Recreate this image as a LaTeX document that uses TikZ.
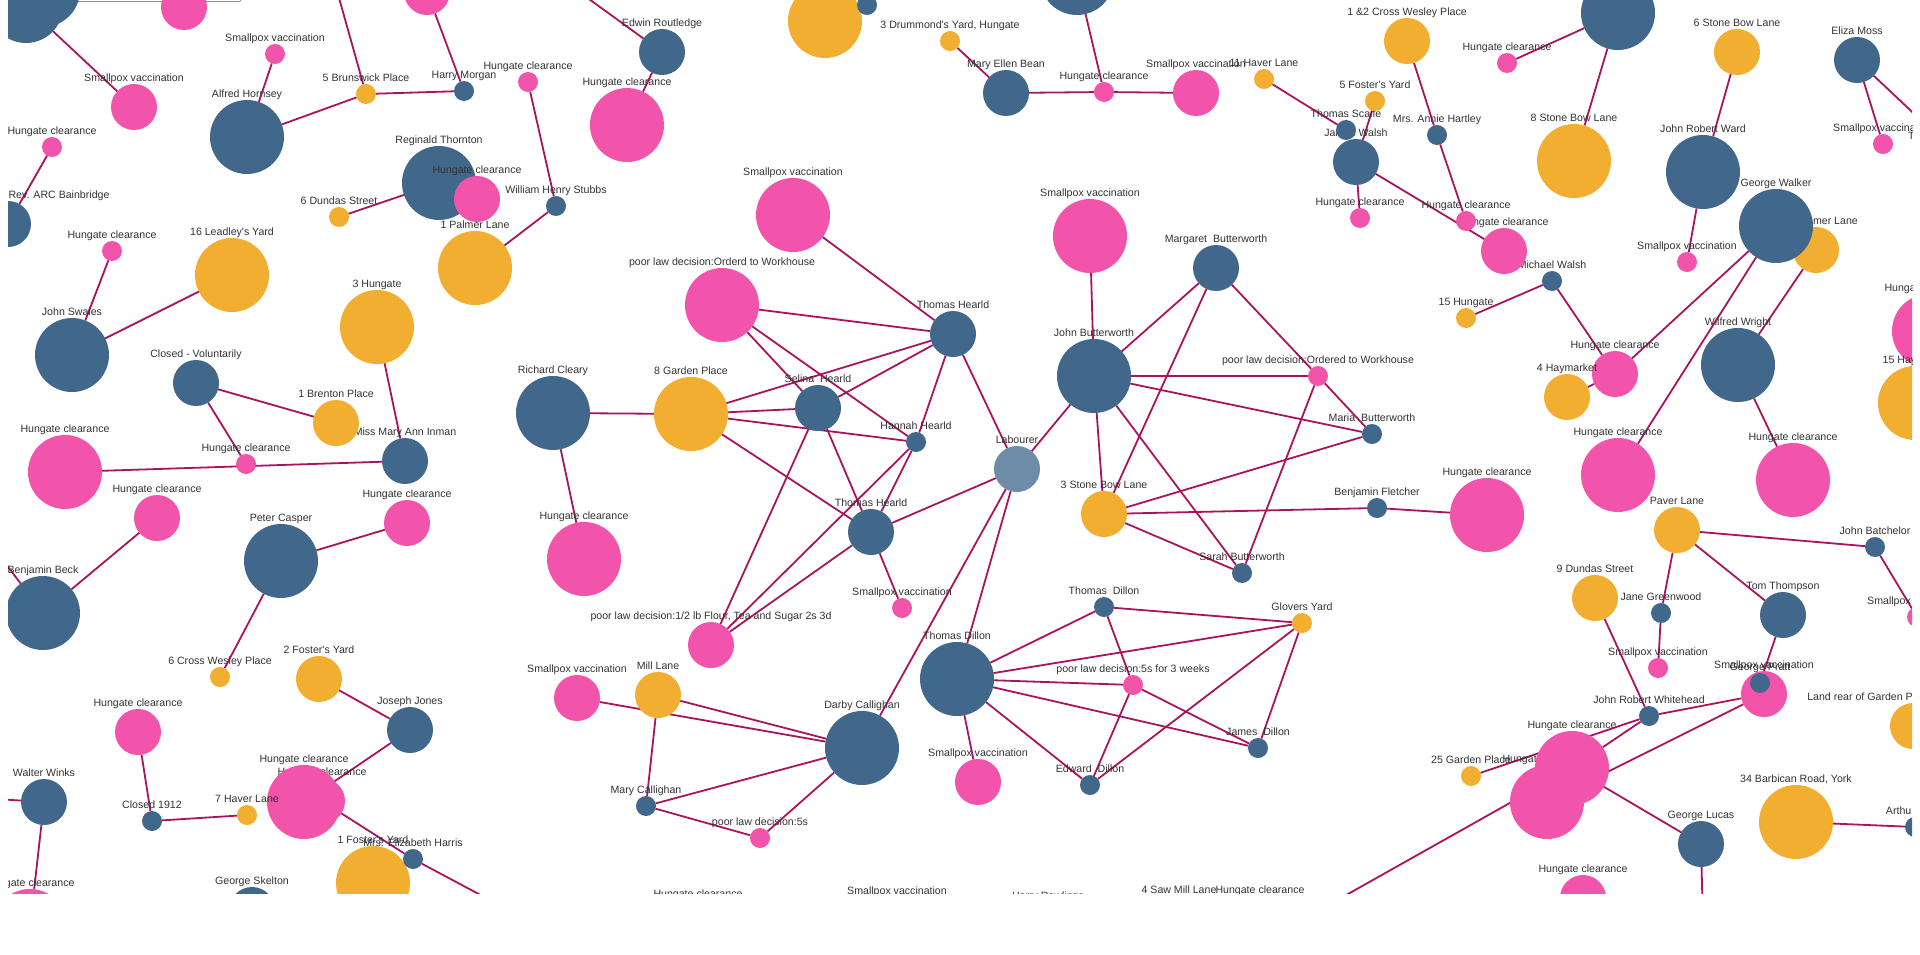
\documentclass[tikz,border=0pt]{standalone}
\usepackage{fontspec}
\usepackage{xcolor}
\usepackage{tikz}
\newfontfamily\labelfont{Liberation Sans}
\definecolor{nblue}{HTML}{41678B}
\definecolor{nlight}{HTML}{6E8CA7}
\definecolor{npink}{HTML}{F254AB}
\definecolor{norange}{HTML}{F2AE30}
\definecolor{nlink}{HTML}{A8145E}
\definecolor{ntext}{HTML}{333333}
\pgfdeclarelayer{paper}
\pgfdeclarelayer{links}
\pgfsetlayers{paper,links,main}
\tikzset{
  dot/.style={circle, inner sep=0pt, outer sep=0pt},
  sdot/.style={dot, minimum size=20pt},
  mdot/.style={dot, minimum size=46pt},
  ldot/.style={dot, minimum size=74pt},
  person/.style={fill=nblue},
  labourer/.style={fill=nlight},
  place/.style={fill=norange},
  event/.style={fill=npink},
  lbl/.style={font=\labelfont\fontsize{10.6}{12}\selectfont, text=ntext, inner sep=0pt, text depth=2pt},
  every label/.style={lbl},
  link/.style={draw=nlink, line width=1.8pt},
  btn/.style={draw=black!45, line width=0.8pt, rounded corners=2pt},
}

\begin{document}
\begin{tikzpicture}[x=1pt,y=-1pt]
    \useasboundingbox (0,0) rectangle (1920,955);
    \begin{pgfonlayer}{paper}
        \fill[white] (0,0) rectangle (1920,955);
    \end{pgfonlayer}

    \begin{scope}
    \clip (8,0) rectangle (1912,893);

    % Buttons at the top
    \draw[btn] (8,-20) rectangle (59,1.5);
    \draw[btn] (74,-20) rectangle (168,1.5);
    \draw[btn] (183,-20) rectangle (241,1.5);

    % Top left
    \node[ldot, person] (topblueB) at (43,-10) {};
    \node[ldot, person] (topblueA) at (26,6) {};
    \node[mdot, event] (toppinkA) at (184,7) {};
    \node[mdot, event, label=above:{Smallpox vaccination}] (sv1) at (134,107) {};
    \node[sdot, event, label=above:{Smallpox vaccination}] (sv2) at (275,54) {};
    \node[ldot, person, label=above:{Alfred Hornsey}] (hornsey) at (247,137) {};
    \node[sdot, place, label=above:{5 Brunswick Place}] (brunswick) at (366,94) {};
    \node[sdot, person, label=above:{Harry Morgan}] (morgan) at (464,91) {};
    \node[mdot, event] (toppinkB) at (427,-8) {};
    \node[sdot, event, label=above:{Hungate clearance}] (hc1) at (52,147) {};
    \node[mdot, person, label={[xshift=51pt]above:{Rev. ARC Bainbridge}}] (bainbridge) at (8,224) {};
    \node[ldot, person, label=above:{Reginald Thornton}] (thornton) at (439,183) {};
    \node[mdot, event, label=above:{Hungate clearance}] (hc2) at (477,199) {};
    \node[sdot, place, label=above:{6 Dundas Street}] (dundas6) at (339,217) {};
    \node[ldot, place, label=above:{1 Palmer Lane}] (palmer1) at (475,268) {};

    % Top middle
    \node[mdot, person, label=above:{Edwin Routledge}] (routledge) at (662,52) {};
    \node[ldot, event, label=above:{Hungate clearance}] (hc4) at (627,125) {};
    \node[sdot, event, label=above:{Hungate clearance}] (hc5) at (528,82) {};
    \node[sdot, person, label=above:{William Henry Stubbs}] (stubbs) at (556,206) {};
    \node[ldot, place] (toporange) at (825,21) {};
    \node[sdot, person] (topblueC) at (867,5) {};
    \node[sdot, place, label=above:{3 Drummond's Yard, Hungate}] (drummond) at (950,41) {};
    \node[ldot, event, label=above:{Smallpox vaccination}] (sv3) at (793,215) {};
    \node[ldot, event, label=above:{poor law decision:Orderd to Workhouse}] (orderd) at (722,305) {};
    \node[mdot, person, label=above:{Thomas Hearld}] (hearldT) at (953,334) {};

    % Top right middle
    \node[ldot, person] (topblueD) at (1077,-22) {};
    \node[mdot, person, label=above:{Mary Ellen Bean}] (bean) at (1006,93) {};
    \node[sdot, event, label=above:{Hungate clearance}] (hc6) at (1104,92) {};
    \node[mdot, event, label=above:{Smallpox vaccination}] (sv4) at (1196,93) {};
    \node[sdot, place, label=above:{11 Haver Lane}] (haver11) at (1264,79) {};
    \node[mdot, person, label=above:{James Walsh}] (jwalsh) at (1356,162) {};
    \node[sdot, person, label=above:{Thomas Scaife}] (scaife) at (1346,130) {};
    \node[sdot, place, label=above:{5 Foster's Yard}] (foster5) at (1375,101) {};
    \node[mdot, place, label=above:{1 \&2 Cross Wesley Place}] (cross12) at (1407,41) {};
    \node[sdot, person, label=above:{Mrs. Annie Hartley}] (hartley) at (1437,135) {};
    \node[sdot, event, label=above:{Hungate clearance}] (hc7) at (1360,218) {};
    \node[ldot, event, label=above:{Smallpox vaccination}] (sv5) at (1090,236) {};
    \node[mdot, person, label=above:{Margaret~ Butterworth}] (mbutter) at (1216,268) {};

    % Top right
    \node[ldot, person] (topblueE) at (1618,13) {};
    \node[sdot, event, label=above:{Hungate clearance}] (hc8) at (1507,63) {};
    \node[ldot, place, label=above:{8 Stone Bow Lane}] (stone8) at (1574,161) {};
    \node[sdot, person, label=above:{Michael Walsh}] (mwalsh) at (1552,281) {};
    \node[mdot, event, label=above:{Hungate clearance}] (hc10) at (1504,251) {};
    \node[sdot, event, label=above:{Hungate clearance}] (hc9) at (1466,221) {};
    \node[sdot, place, label=above:{15 Hungate}] (hungate15) at (1466,318) {};
    \node[mdot, place, label=above:{6 Stone Bow Lane}] (stone6) at (1737,52) {};
    \node[ldot, person, label=above:{John Robert Ward}] (ward) at (1703,172) {};
    \node[sdot, event, label=above:{Smallpox vaccination}] (sv6) at (1687,262) {};
    \node[mdot, place, label={[xshift=19.4pt]above:{mer Lane}}] (merlane) at (1816,250) {};
    \node[ldot, person, label=above:{George Walker}] (gwalker) at (1776,226) {};
    \node[mdot, person, label=above:{Eliza Moss}] (moss) at (1857,60) {};
    \node[sdot, event, label=above:{Smallpox vaccination}] (sv7) at (1883,144) {};
    \node[lbl, anchor=base west] (tcut) at (1908,140) {T};
    \node[ldot, event, label=above:{Hungate clearance}] (hcR) at (1929,331) {};
    \node[ldot, place, label={[xshift=-15.5pt]above:{15 Hay}}] (hayR) at (1915,403) {};

    % Left middle
    \node[ldot, place, label=above:{16 Leadley's Yard}] (leadley) at (232,275) {};
    \node[sdot, event, label=above:{Hungate clearance}] (hc3) at (112,251) {};
    \node[ldot, place, label=above:{3 Hungate}] (hungate3) at (377,327) {};
    \node[ldot, person, label=above:{John Swales}] (swales) at (72,355) {};
    \node[mdot, person, label=above:{Closed - Voluntarily}] (closedv) at (196,383) {};
    \node[mdot, person, label=above:{Miss Mary Ann Inman}] (inman) at (405,461) {};
    \node[mdot, place, label=above:{1 Brenton Place}] (brenton) at (336,423) {};
    \node[sdot, event, label=above:{Hungate clearance}] (hc11) at (246,464) {};
    \node[ldot, event, label=above:{Hungate clearance}] (hc12) at (65,472) {};
    \node[mdot, event, label=above:{Hungate clearance}] (hc13) at (157,518) {};
    \node[mdot, event, label=above:{Hungate clearance}] (hc14) at (407,523) {};
    \node[ldot, person, label=above:{Peter Casper}] (casper) at (281,561) {};
    \node[ldot, person, label=above:{Benjamin Beck}] (beck) at (43,613) {};
    \node[sdot, place, label=above:{6 Cross Wesley Place}] (cwesley6) at (220,677) {};

    % Bottom left
    \node[mdot, place, label=above:{2 Foster's Yard}] (foster2) at (319,679) {};
    \node[mdot, person, label=above:{Joseph Jones}] (jjones) at (410,730) {};
    \node[mdot, event, label=above:{Hungate clearance}] (hc15) at (138,732) {};
    \node[mdot, person, label=above:{Walter Winks}] (winks) at (44,802) {};
    \node[ldot, event, label=above:{Hungate clearance}] (hc16) at (30,926) {};
    \node[sdot, person, label=above:{Closed 1912}] (closed1912) at (152,821) {};
    \node[mdot, event, label=above:{Hungate clearance}] (hc17) at (322,801) {};
    \node[ldot, event, label=above:{Hungate clearance}] (hc18) at (304,802) {};
    \node[sdot, place, label=above:{7 Haver Lane}] (haver7) at (247,815) {};
    \node[ldot, place, label=above:{1 Foster's Yard}] (foster1) at (373,883) {};
    \node[sdot, person, label=above:{Mrs. Elizabeth Harris}] (harris) at (413,859) {};
    \node[mdot, person, label=above:{George Skelton}] (skelton) at (252,910) {};

    % Centre: the Hearlds
    \node[ldot, person, label=above:{Richard Cleary}] (cleary) at (553,413) {};
    \node[ldot, place, label=above:{8 Garden Place}] (garden8) at (691,414) {};
    \node[ldot, event, label=above:{Hungate clearance}] (hc19) at (584,559) {};
    \node[mdot, person, label=above:{Selina~ Hearld}] (selina) at (818,408) {};
    \node[sdot, person, label=above:{Hannah Hearld}] (hannah) at (916,442) {};
    \node[mdot, person, label=above:{Thomas Hearld}] (hearldB) at (871,532) {};
    \node[sdot, event, label=above:{Smallpox vaccination}] (sv8) at (902,608) {};
    \node[mdot, event, label=above:{poor law decision:1/2 lb Flour, Tea and Sugar 2s 3d}] (flour) at (711,645) {};

    % Centre: Butterworths and Dillons
    \node[ldot, person, label=above:{John Butterworth}] (jbutter) at (1094,376) {};
    \node[mdot, labourer, label=above:{Labourer}] (labourer) at (1017,469) {};
    \node[sdot, event, label=above:{poor law decision:Ordered to Workhouse}] (ordered) at (1318,376) {};
    \node[sdot, person, label=above:{Maria~ Butterworth}] (maria) at (1372,434) {};
    \node[mdot, place, label=above:{3 Stone Bow Lane}] (stone3) at (1104,514) {};
    \node[sdot, person, label=above:{Benjamin Fletcher}] (fletcher) at (1377,508) {};
    \node[sdot, person, label=above:{Sarah Butterworth}] (sarah) at (1242,573) {};
    \node[sdot, person, label=above:{Thomas~ Dillon}] (tdillonS) at (1104,607) {};
    \node[sdot, place, label=above:{Glovers Yard}] (glovers) at (1302,623) {};
    \node[ldot, person, label=above:{Thomas Dillon}] (tdillonB) at (957,679) {};
    \node[sdot, event, label=above:{poor law decision:5s for 3 weeks}] (weeks) at (1133,685) {};
    \node[sdot, person, label=above:{James~ Dillon}] (jdillon) at (1258,748) {};
    \node[sdot, person, label=above:{Edward~ Dillon}] (edillon) at (1090,785) {};
    \node[mdot, event, label=above:{Smallpox vaccination}] (sv9) at (978,782) {};

    % Centre: Callighans
    \node[mdot, event, label=above:{Smallpox vaccination}] (sv10) at (577,698) {};
    \node[mdot, place, label=above:{Mill Lane}] (mill) at (658,695) {};
    \node[sdot, person, label=above:{Mary Callighan}] (mcall) at (646,806) {};
    \node[sdot, event, label=above:{poor law decision:5s}] (fives) at (760,838) {};
    \node[ldot, person, label=above:{Darby Callighan}] (darby) at (862,748) {};

    % Right middle
    \node[mdot, event, label=above:{Hungate clearance}] (hc20) at (1615,374) {};
    \node[mdot, place, label=above:{4 Haymarket}] (haymarket4) at (1567,397) {};
    \node[ldot, person, label=above:{Wilfred Wright}] (wright) at (1738,365) {};
    \node[ldot, event, label=above:{Hungate clearance}] (hc21) at (1618,475) {};
    \node[ldot, event, label=above:{Hungate clearance}] (hc22) at (1793,480) {};
    \node[ldot, event, label=above:{Hungate clearance}] (hc23) at (1487,515) {};
    \node[mdot, place, label=above:{Paver Lane}] (paver) at (1677,530) {};
    \node[sdot, person, label=above:{John Batchelor}] (batchelor) at (1875,547) {};
    \node[mdot, place, label=above:{9 Dundas Street}] (dundas9) at (1595,598) {};
    \node[sdot, person, label=above:{Jane Greenwood}] (greenwood) at (1661,613) {};
    \node[mdot, person, label=above:{Tom Thompson}] (thompson) at (1783,615) {};
    \node[sdot, event, label=above:{Smallpox vaccination}] (sv11) at (1917,617) {};

    % Bottom right
    \node[sdot, event, label=above:{Smallpox vaccination}] (sv12) at (1658,668) {};
    \node[mdot, event, label=above:{Smallpox vaccination}] (sv13) at (1764,694) {};
    \node[sdot, person, label=above:{George Pratt}] (pratt) at (1760,683) {};
    \node[sdot, person, label=above:{John Robert Whitehead}] (whitehead) at (1649,716) {};
    \node[sdot, place, label=above:{25 Garden Place}] (garden25) at (1471,776) {};
    \node[ldot, event, label=above:{Hungate clearance}] (hc24) at (1547,802) {};
    \node[ldot, event, label=above:{Hungate clearance}] (hc25) at (1572,768) {};
    \node[mdot, person, label=above:{George Lucas}] (lucas) at (1701,844) {};
    \node[mdot, event, label=above:{Hungate clearance}] (hc26) at (1583,898) {};
    \node[ldot, place, label=above:{34 Barbican Road, York}] (barbican) at (1796,822) {};
    \node[sdot, person, label={[xshift=-16.4pt]above:{Arthu}}] (arthur) at (1915,827) {};
    \node[mdot, place, label={[xshift=-53pt]above:{Land rear of Garden P}}] (landrear) at (1913,726) {};

    % Labels cut by the lower edge
    \node[lbl, anchor=base] (cutA) at (698,897) {Hungate clearance};
    \node[lbl, anchor=base] (cutB) at (897,894) {Smallpox vaccination};
    \node[lbl, anchor=base] (cutC) at (1048,899) {Harry Rawlings};
    \node[lbl, anchor=base] (cutD) at (1179,893) {4 Saw Mill Lane};
    \node[lbl, anchor=base] (cutE) at (1260,893) {Hungate clearance};

    % Free ends outside the view
    \coordinate (offBrunswick) at (334,-20);
    \coordinate (offRoutledge) at (560,-22);
    \coordinate (offBeck) at (-10,543);
    \coordinate (offWinks) at (-20,798);
    \coordinate (offHarris) at (520,916);
    \coordinate (offLucas) at (1703,925);
    \coordinate (offHC) at (1300,921);
    \coordinate (offMoss) at (1960,157);
    \end{scope}

    % Connections
    \begin{pgfonlayer}{links}
    \clip (8,0) rectangle (1912,893);
    \draw[link] (topblueA) -- (sv1);
    \draw[link] (sv2) -- (hornsey);
    \draw[link] (hornsey) -- (brunswick);
    \draw[link] (brunswick) -- (morgan);
    \draw[link] (brunswick) -- (offBrunswick);
    \draw[link] (morgan) -- (toppinkB);
    \draw[link] (hc1) -- (bainbridge);
    \draw[link] (thornton) -- (dundas6);
    \draw[link] (hc3) -- (swales);
    \draw[link] (leadley) -- (swales);
    \draw[link] (routledge) -- (offRoutledge);
    \draw[link] (routledge) -- (hc4);
    \draw[link] (hc5) -- (stubbs);
    \draw[link] (stubbs) -- (palmer1);
    \draw[link] (hungate3) -- (inman);
    \draw[link] (drummond) -- (bean);
    \draw[link] (bean) -- (hc6);
    \draw[link] (hc6) -- (sv4);
    \draw[link] (hc6) -- (topblueD);
    \draw[link] (haver11) -- (scaife);
    \draw[link] (foster5) -- (jwalsh);
    \draw[link] (jwalsh) -- (hc7);
    \draw[link] (jwalsh) -- (hc10);
    \draw[link] (cross12) -- (hartley);
    \draw[link] (hartley) -- (hc9);
    \draw[link] (topblueE) -- (hc8);
    \draw[link] (topblueE) -- (stone8);
    \draw[link] (mwalsh) -- (hungate15);
    \draw[link] (mwalsh) -- (hc20);
    \draw[link] (stone6) -- (ward);
    \draw[link] (ward) -- (sv6);
    \draw[link] (gwalker) -- (hc20);
    \draw[link] (gwalker) -- (hc21);
    \draw[link] (merlane) -- (wright);
    \draw[link] (moss) -- (sv7);
    \draw[link] (moss) -- (offMoss);
    \draw[link] (wright) -- (hc22);
    \draw[link] (haymarket4) -- (hc20);
    \draw[link] (fletcher) -- (hc23);
    \draw[link] (paver) -- (batchelor);
    \draw[link] (paver) -- (greenwood);
    \draw[link] (paver) -- (thompson);
    \draw[link] (batchelor) -- (sv11);
    \draw[link] (greenwood) -- (sv12);
    \draw[link] (thompson) -- (pratt);
    \draw[link] (dundas9) -- (whitehead);
    \draw[link] (whitehead) -- (sv13);
    \draw[link] (whitehead) -- (garden25);
    \draw[link] (whitehead) -- (hc25);
    \draw[link] (sv13) -- (hc24);
    \draw[link] (hc25) -- (offHC);
    \draw[link] (hc25) -- (lucas);
    \draw[link] (lucas) -- (offLucas);
    \draw[link] (barbican) -- (arthur);
    \draw[link] (closedv) -- (brenton);
    \draw[link] (closedv) -- (hc11);
    \draw[link] (hc12) -- (inman);
    \draw[link] (hc13) -- (beck);
    \draw[link] (beck) -- (offBeck);
    \draw[link] (casper) -- (hc14);
    \draw[link] (casper) -- (cwesley6);
    \draw[link] (foster2) -- (jjones);
    \draw[link] (jjones) -- (hc18);
    \draw[link] (hc17) -- (harris);
    \draw[link] (harris) -- (offHarris);
    \draw[link] (hc15) -- (closed1912);
    \draw[link] (closed1912) -- (haver7);
    \draw[link] (winks) -- (hc16);
    \draw[link] (winks) -- (offWinks);
    \draw[link] (cleary) -- (garden8);
    \draw[link] (cleary) -- (hc19);
    \draw[link] (orderd) -- (hearldT);
    \draw[link] (orderd) -- (selina);
    \draw[link] (orderd) -- (hannah);
    \draw[link] (garden8) -- (hearldT);
    \draw[link] (garden8) -- (selina);
    \draw[link] (garden8) -- (hannah);
    \draw[link] (garden8) -- (hearldB);
    \draw[link] (selina) -- (hearldT);
    \draw[link] (selina) -- (flour);
    \draw[link] (selina) -- (hearldB);
    \draw[link] (hannah) -- (hearldT);
    \draw[link] (hannah) -- (flour);
    \draw[link] (hannah) -- (hearldB);
    \draw[link] (hearldB) -- (flour);
    \draw[link] (hearldB) -- (labourer);
    \draw[link] (hearldB) -- (sv8);
    \draw[link] (hearldT) -- (sv3);
    \draw[link] (hearldT) -- (labourer);
    \draw[link] (labourer) -- (jbutter);
    \draw[link] (labourer) -- (darby);
    \draw[link] (labourer) -- (tdillonB);
    \draw[link] (jbutter) -- (sv5);
    \draw[link] (jbutter) -- (mbutter);
    \draw[link] (jbutter) -- (ordered);
    \draw[link] (jbutter) -- (maria);
    \draw[link] (jbutter) -- (stone3);
    \draw[link] (jbutter) -- (sarah);
    \draw[link] (mbutter) -- (stone3);
    \draw[link] (mbutter) -- (ordered);
    \draw[link] (ordered) -- (maria);
    \draw[link] (ordered) -- (sarah);
    \draw[link] (maria) -- (stone3);
    \draw[link] (stone3) -- (fletcher);
    \draw[link] (stone3) -- (sarah);
    \draw[link] (tdillonS) -- (glovers);
    \draw[link] (tdillonB) -- (tdillonS);
    \draw[link] (tdillonB) -- (glovers);
    \draw[link] (tdillonB) -- (weeks);
    \draw[link] (tdillonB) -- (jdillon);
    \draw[link] (tdillonB) -- (edillon);
    \draw[link] (tdillonB) -- (sv9);
    \draw[link] (tdillonS) -- (weeks);
    \draw[link] (glovers) -- (edillon);
    \draw[link] (glovers) -- (jdillon);
    \draw[link] (weeks) -- (jdillon);
    \draw[link] (weeks) -- (edillon);
    \draw[link] (sv10) -- (darby);
    \draw[link] (mill) -- (darby);
    \draw[link] (mill) -- (mcall);
    \draw[link] (mcall) -- (darby);
    \draw[link] (mcall) -- (fives);
    \draw[link] (fives) -- (darby);
    \end{pgfonlayer}
\end{tikzpicture}
\end{document}
